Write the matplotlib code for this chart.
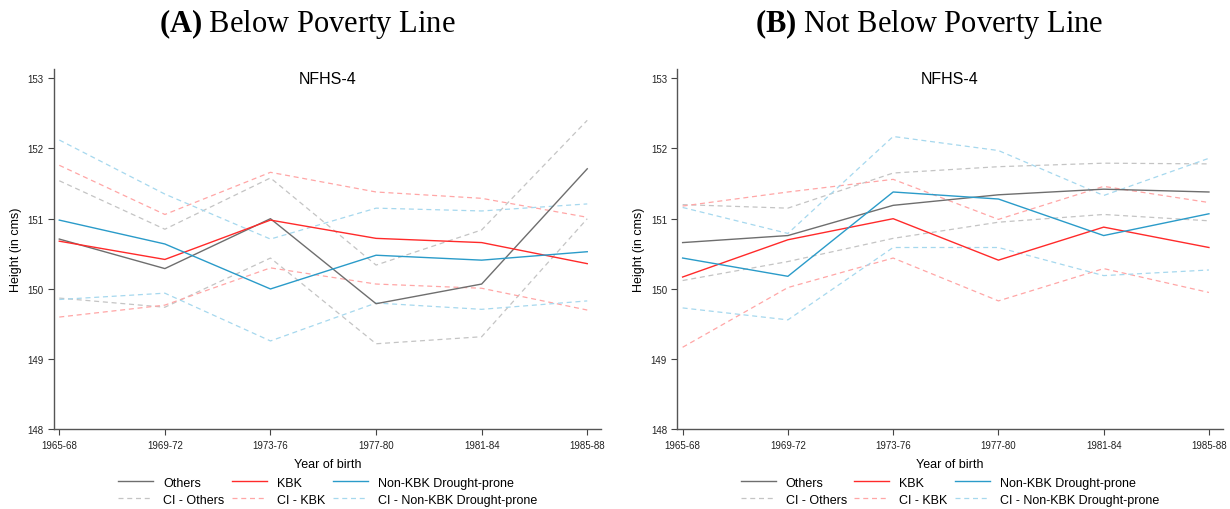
import numpy as np
import matplotlib
matplotlib.use("Agg")
import matplotlib.pyplot as plt

plt.rcParams['font.family'] = ['Liberation Sans', 'DejaVu Sans']
plt.rcParams['mathtext.fontset'] = 'custom'
plt.rcParams['mathtext.rm'] = 'Liberation Serif'
plt.rcParams['mathtext.bf'] = 'Liberation Serif:bold'

years = ['1965-68', '1969-72', '1973-76', '1977-80', '1981-84', '1985-88']

# Panel A: below poverty line
bpl_others = [150.71, 150.29, 151.00, 149.79, 150.07, 151.71]
bpl_kbk = [150.68, 150.42, 150.98, 150.72, 150.66, 150.36]
bpl_nonkbk = [150.98, 150.64, 150.00, 150.48, 150.41, 150.53]
bpl_others_hi = [151.54, 150.85, 151.58, 150.34, 150.84, 152.40]
bpl_others_lo = [149.87, 149.74, 150.44, 149.22, 149.32, 151.00]
bpl_kbk_hi = [151.76, 151.06, 151.66, 151.38, 151.29, 151.02]
bpl_kbk_lo = [149.60, 149.77, 150.30, 150.07, 150.01, 149.70]
bpl_nonkbk_hi = [152.12, 151.35, 150.71, 151.15, 151.11, 151.21]
bpl_nonkbk_lo = [149.85, 149.94, 149.26, 149.80, 149.71, 149.83]

# Panel B: not below poverty line
nbpl_others = [150.66, 150.76, 151.19, 151.34, 151.42, 151.38]
nbpl_kbk = [150.17, 150.70, 151.00, 150.41, 150.88, 150.59]
nbpl_nonkbk = [150.44, 150.18, 151.38, 151.28, 150.76, 151.07]
nbpl_others_hi = [151.20, 151.15, 151.65, 151.74, 151.79, 151.78]
nbpl_others_lo = [150.12, 150.39, 150.72, 150.95, 151.06, 150.97]
nbpl_kbk_hi = [151.18, 151.38, 151.56, 150.99, 151.46, 151.23]
nbpl_kbk_lo = [149.17, 150.02, 150.44, 149.83, 150.29, 149.95]
nbpl_nonkbk_hi = [151.16, 150.79, 152.17, 151.97, 151.33, 151.86]
nbpl_nonkbk_lo = [149.73, 149.56, 150.59, 150.59, 150.19, 150.27]

groups = ['Others', 'KBK', 'Non-KBK Drought-prone']
solid_cols = ['#6e6e6e', '#ff2a2a', '#2a9bc9']
ci_cols = ['#c4c4c4', '#ffa6a6', '#a6d8ee']

fig = plt.figure(figsize=(12.3, 5.1), dpi=100)
ax1 = fig.add_axes([0.0439, 0.1559, 0.4447, 0.7068])
ax2 = fig.add_axes([0.5507, 0.1559, 0.4433, 0.7068])

panels = [
    (ax1, [bpl_others, bpl_kbk, bpl_nonkbk],
     [(bpl_others_hi, bpl_others_lo), (bpl_kbk_hi, bpl_kbk_lo), (bpl_nonkbk_hi, bpl_nonkbk_lo)]),
    (ax2, [nbpl_others, nbpl_kbk, nbpl_nonkbk],
     [(nbpl_others_hi, nbpl_others_lo), (nbpl_kbk_hi, nbpl_kbk_lo), (nbpl_nonkbk_hi, nbpl_nonkbk_lo)]),
]

x = np.arange(len(years))
for ax, means, cis in panels:
    solid_handles, ci_handles = [], []
    for g, m, (hi, lo), sc, cc in zip(groups, means, cis, solid_cols, ci_cols):
        h, = ax.plot(x, m, color=sc, lw=1.0, label=g, zorder=3)
        d, = ax.plot(x, hi, color=cc, lw=0.9, dashes=(4, 3), label='CI - ' + g, zorder=2)
        ax.plot(x, lo, color=cc, lw=0.9, dashes=(4, 3), zorder=2)
        solid_handles.append(h)
        ci_handles.append(d)
    ax.set_xlim(-0.05, 5.13)
    ax.set_ylim(148, 153.13)
    ax.set_xticks(x)
    ax.set_xticklabels(years)
    ax.set_yticks([148, 149, 150, 151, 152, 153])
    ax.tick_params(labelsize=7, length=4, width=0.8, colors='#444444', labelcolor='#222222')
    for s in ['top', 'right']:
        ax.spines[s].set_visible(False)
    for s in ['left', 'bottom']:
        ax.spines[s].set_color('#555555')
        ax.spines[s].set_linewidth(1.0)
    ax.set_ylabel('Height (in cms)', fontsize=9, labelpad=4)
    ax.set_xlabel('Year of birth', fontsize=9, labelpad=6)
    ax.text(0.5, 0.995, 'NFHS-4', transform=ax.transAxes, ha='center', va='top', fontsize=11.5)
    # interleave so rows are solid / CI with three columns
    handles = [solid_handles[0], ci_handles[0], solid_handles[1], ci_handles[1],
               solid_handles[2], ci_handles[2]]
    ax.legend(handles=handles, loc='upper center', bbox_to_anchor=(0.5, -0.1), ncol=3,
              frameon=False, fontsize=9, handlelength=2.8, columnspacing=0.6,
              labelspacing=0.4, handletextpad=0.8)

fig.text(0.2496, 0.952, r'$\mathbf{(A)}$ Below Poverty Line', ha='center', va='center',
         fontsize=22, family='Liberation Serif')
fig.text(0.7555, 0.952, r'$\mathbf{(B)}$ Not Below Poverty Line', ha='center', va='center',
         fontsize=22, family='Liberation Serif')

fig.savefig('out.png', dpi=100)
